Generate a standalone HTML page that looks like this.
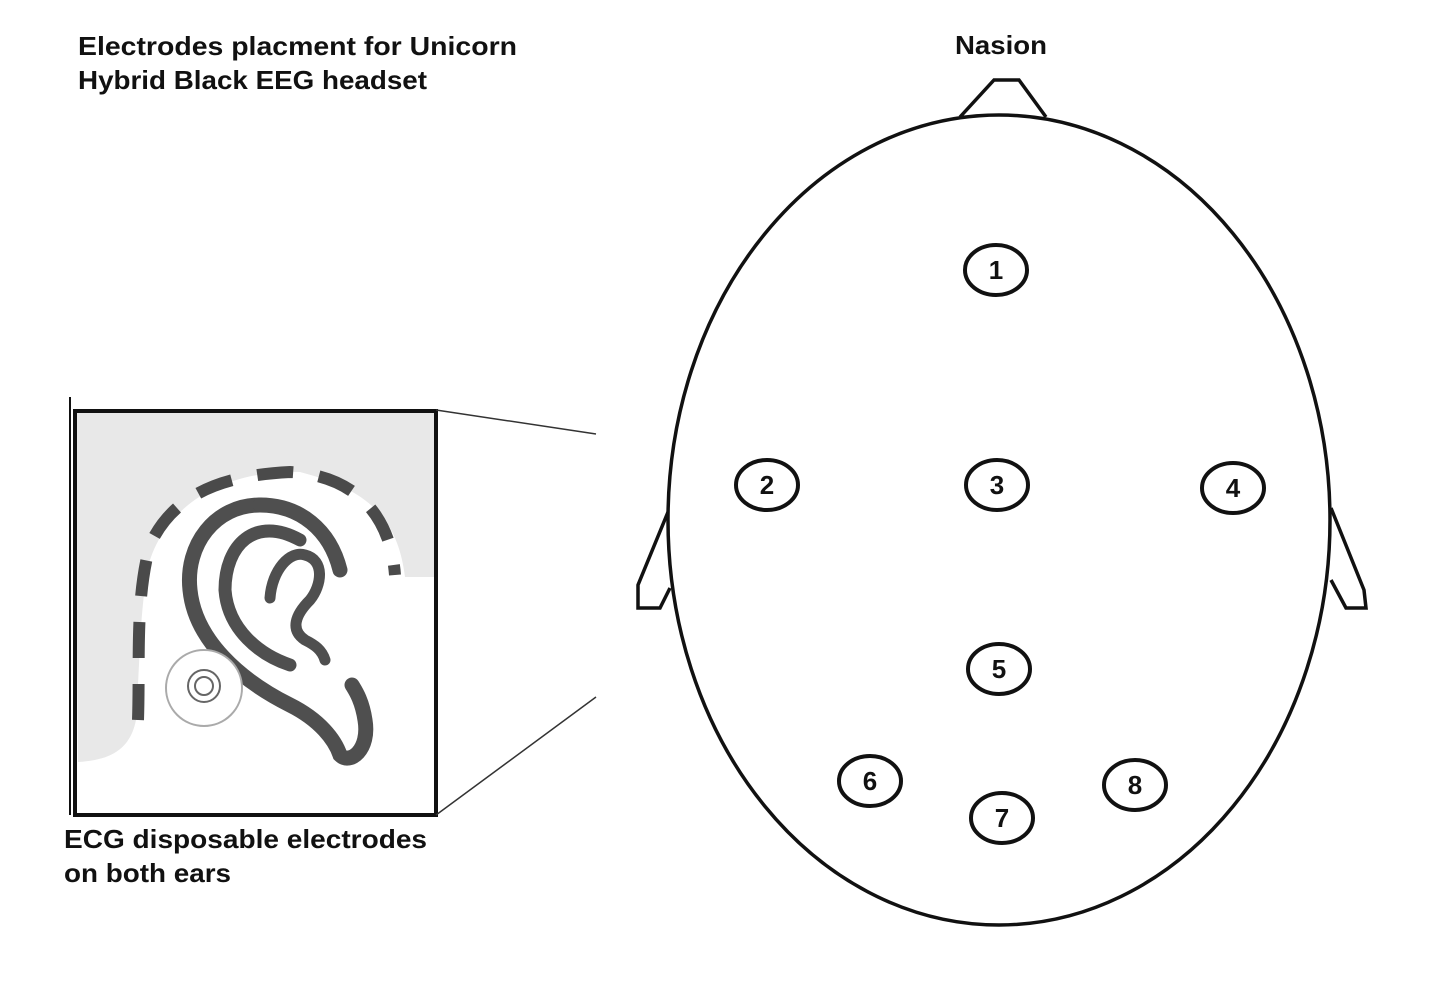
<!DOCTYPE html>
<html><head><meta charset="utf-8"><style>
body{margin:0;background:#fff;}
svg{display:block;}
text{font-family:"Liberation Sans",sans-serif;font-weight:bold;fill:#111;}
</style></head><body>
<svg width="1456" height="998" viewBox="0 0 1456 998">
<g>
<text x="78" y="55" font-size="26" textLength="439" lengthAdjust="spacingAndGlyphs">Electrodes placment  for Unicorn</text>
<text x="78" y="89" font-size="26" textLength="349" lengthAdjust="spacingAndGlyphs">Hybrid Black EEG headset</text>
</g>
<text x="955" y="54" font-size="26" textLength="92" lengthAdjust="spacingAndGlyphs">Nasion</text>
<g>
<line x1="70" y1="397" x2="70" y2="815" stroke="#111" stroke-width="2"/>
<path d="M75,411 H436 V577 H405 C398,520 370,490 300,472 C230,470 170,500 150,560 C140,600 140,660 136,720 C130,750 110,760 78,762 Z" fill="#e8e8e8"/>
<path d="M138,720 C140,660 135,600 150,545 C175,490 230,475 290,472 C350,475 390,510 395,575" fill="none" stroke="#4a4a4a" stroke-width="12" stroke-dasharray="36 26"/>
<path d="M260,505 C215,505 185,545 190,590 C195,640 240,680 290,705 C320,720 335,740 340,755 C350,765 370,750 365,720 C362,700 355,690 352,685" fill="none" stroke="#4f4f4f" stroke-width="15" stroke-linecap="round"/>
<path d="M260,505 C300,505 330,530 340,570" fill="none" stroke="#4f4f4f" stroke-width="15" stroke-linecap="round"/>
<path d="M300,540 C255,515 225,545 225,590 C228,630 260,655 290,665" fill="none" stroke="#4f4f4f" stroke-width="13" stroke-linecap="round"/>
<path d="M270,598 C272,570 290,550 305,555 C325,560 322,585 310,600 C295,615 290,630 305,640 C315,645 322,650 325,660" fill="none" stroke="#4f4f4f" stroke-width="11" stroke-linecap="round"/>
<circle cx="204" cy="688" r="38" fill="#fff" stroke="#aaa" stroke-width="2"/>
<circle cx="204" cy="686" r="16" fill="none" stroke="#666" stroke-width="2"/>
<circle cx="204" cy="686" r="9" fill="none" stroke="#666" stroke-width="2"/>
<rect x="75" y="411" width="361" height="404" fill="none" stroke="#111" stroke-width="4"/>
<line x1="436" y1="410" x2="596" y2="434" stroke="#333" stroke-width="1.5"/>
<line x1="436" y1="815" x2="596" y2="697" stroke="#333" stroke-width="1.5"/>
</g>
<g>
<text x="64" y="848" font-size="26" textLength="363" lengthAdjust="spacingAndGlyphs">ECG disposable electrodes</text>
<text x="64" y="882" font-size="26" textLength="167" lengthAdjust="spacingAndGlyphs">on both ears</text>
</g>
<g fill="#fff" stroke="#111" stroke-width="3.5">
<path d="M960,117 L994,80 L1019,80 L1046,117"/>
<path d="M668,512 L638,585 L638,608 L660,608 L670,588"/>
<path d="M1331,508 L1364,590 L1366,608 L1346,608 L1331,580"/>
<ellipse cx="999" cy="520" rx="331" ry="405"/>
</g>
<g id="els"></g>
<script>
const labels=["1","2","3","4","5","6","7","8"];
const ex=[996,767,997,1233,999,870,1002,1135];
const ey=[270,485,485,488,669,781,818,785];
const g=document.getElementById('els');
const NS="http://www.w3.org/2000/svg";
labels.forEach((l,i)=>{
 const e=document.createElementNS(NS,'ellipse');
 
 
 e.setAttribute('cx',ex[i]);e.setAttribute('cy',ey[i]);
 e.setAttribute('rx',31);e.setAttribute('ry',25);
 e.setAttribute('fill','#fff');e.setAttribute('stroke','#111');e.setAttribute('stroke-width','4');
 g.appendChild(e);
 const t=document.createElementNS(NS,'text');
 
 
 t.setAttribute('x',ex[i]);t.setAttribute('y',ey[i]+9);
 t.setAttribute('text-anchor','middle');t.setAttribute('font-size','26');
 t.textContent=l;g.appendChild(t);
});
</script>
</svg>
</body></html>
